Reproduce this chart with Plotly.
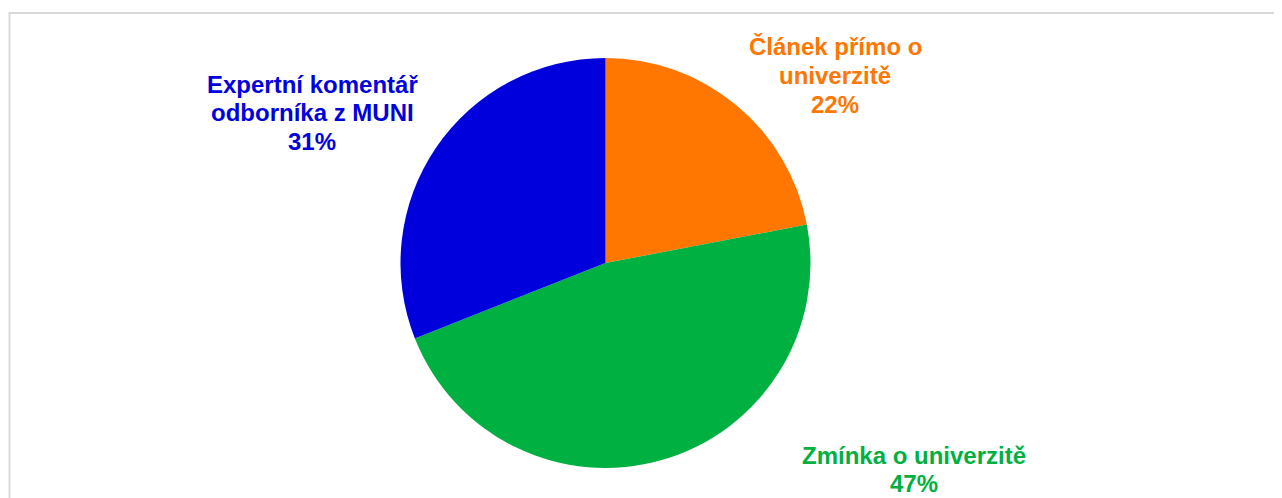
import plotly.graph_objects as go

# Data
categories = ["Článek přímo o univerzitě", "Zmínka o univerzitě", "Expertní komentář odborníka z MUNI"]
display_lines = [["Článek přímo o", "univerzitě"], ["Zmínka o univerzitě"], ["Expertní komentář", "odborníka z MUNI"]]
values = [22, 47, 31]
colors = ["#FF7600", "#00B041", "#0000DD"]

W, H = 1282, 498
OFF = 8  # page body margin offset
cx, cy, r = 605.5, 263, 205

def px(x):
    return (x - OFF) / W

def py(y):
    return 1 - (y - OFF) / H

fig = go.Figure()
fig.add_trace(go.Pie(
    labels=categories,
    values=values,
    sort=False,
    direction="clockwise",
    rotation=0,
    textinfo="none",
    marker=dict(colors=colors, line=dict(width=0)),
    domain=dict(x=[px(cx - r), px(cx + r)], y=[py(cy + r), py(cy - r)]),
    showlegend=False,
))

# label positions: (center x, first line center y) in screenshot pixels
label_pos = [(835, 47), (914, 455), (312, 84)]
LINE = 28.7
total = sum(values)
for lines, v, c, (lx, ly) in zip(display_lines, values, colors, label_pos):
    pct = round(100 * v / total)
    all_lines = lines + [f"{pct}%"]
    for i, t in enumerate(all_lines):
        fig.add_annotation(
            x=px(lx), y=py(ly + i * LINE), xref="paper", yref="paper",
            text=f"<b>{t}</b>",
            showarrow=False, xanchor="center", yanchor="middle",
            font=dict(family="Liberation Sans, Arial, sans-serif", size=24, color=c),
        )

# chart frame
fig.add_shape(type="rect", xref="paper", yref="paper",
              x0=px(9.5), x1=px(1300), y0=py(530), y1=py(13),
              line=dict(color="#D9D9D9", width=2), fillcolor="rgba(0,0,0,0)")

fig.update_layout(
    width=W, height=H,
    margin=dict(l=0, r=0, t=0, b=0),
    paper_bgcolor="white", plot_bgcolor="white",
)
fig.write_html("out.html")
